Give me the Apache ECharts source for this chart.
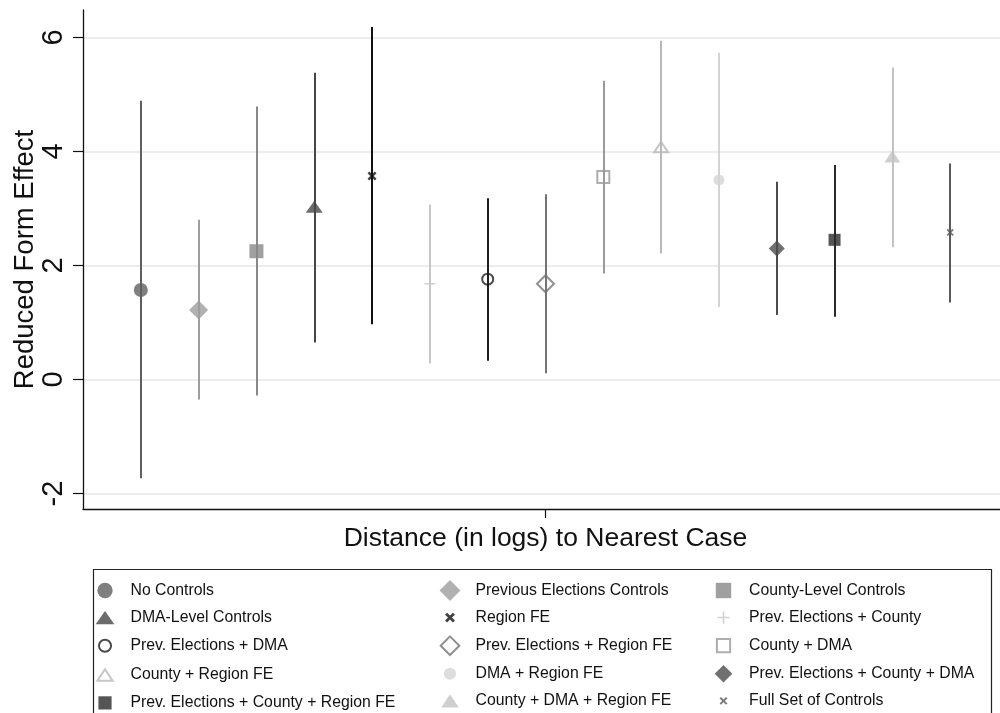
<!DOCTYPE html>
<html>
<head>
<meta charset="utf-8">
<script src="https://cdn.jsdelivr.net/npm/echarts@6/dist/echarts.min.js"></script>
<style>
  html, body { margin: 0; padding: 0; background: #ffffff; }
  #chart { width: 1000px; height: 713px; }
</style>
</head>
<body>
<div id="chart"></div>
<script>
// Specifications, in plotting order
const specNames = [
  'No Controls', 'Previous Elections Controls', 'County-Level Controls',
  'DMA-Level Controls', 'Region FE', 'Prev. Elections + County',
  'Prev. Elections + DMA', 'Prev. Elections + Region FE', 'County + DMA',
  'County + Region FE', 'DMA + Region FE', 'Prev. Elections + County + DMA',
  'Prev. Elections + County + Region FE', 'County + DMA + Region FE', 'Full Set of Controls'
];
// Point estimates and confidence bounds
const estimates = [1.57, 1.22, 2.25, 3.03, 3.57, 1.68, 1.76, 1.68, 3.55, 4.08, 3.50, 2.30, 2.45, 3.91, 2.58];
const ciLow     = [-1.73, -0.35, -0.28, 0.65, 0.97, 0.28, 0.33, 0.11, 1.86, 2.21, 1.27, 1.13, 1.10, 2.32, 1.35];
const ciHigh    = [4.89, 2.80, 4.79, 5.38, 6.18, 3.07, 3.18, 3.25, 5.24, 5.94, 5.73, 3.47, 3.76, 5.47, 3.79];
const yTicks = [-2, 0, 2, 4, 6];
const xTicks = [8];
const xTitle = 'Distance (in logs) to Nearest Case';
const yTitle = 'Reduced Form Effect';

// Marker shapes drawn in a 20x20 box (padded so every glyph keeps its own size)
const PAD = 'M0,0L0,0M20,20L20,20';
const shapes = {
  circle:      'M3,10A7,7 0 1 1 17,10A7,7 0 1 1 3,10Z',
  diamond:     'M10,0.5L19.5,10L10,19.5L0.5,10Z',
  square:      'M3,3H17V17H3Z',
  triangle:    'M1.5,16L10,4L18.5,16Z',
  cross:       'M5.5,7.3L7.3,5.5L10,8.2L12.7,5.5L14.5,7.3L11.8,10L14.5,12.7L12.7,14.5L10,11.8L7.3,14.5L5.5,12.7L8.2,10Z',
  plus:        'M9.3,4.5H10.7V9.3H15.5V10.7H10.7V15.5H9.3V10.7H4.5V9.3H9.3Z',
  oCircle:     'M4.5,10A5.5,5.5 0 1 1 15.5,10A5.5,5.5 0 1 1 4.5,10Z',
  oDiamond:    'M10,1.5L18.5,10L10,18.5L1.5,10Z',
  oSquare:     'M4,4H16V16H4Z',
  oTriangle:   'M3,15.5L10,5L17,15.5Z',
  smallCircle: 'M4.5,10A5.5,5.5 0 1 1 15.5,10A5.5,5.5 0 1 1 4.5,10Z',
  midDiamond:  'M10,2L18,10L10,18L2,10Z',
  midSquare:   'M4,4H16V16H4Z',
  midTriangle: 'M2,16L10,4L18,16Z',
  smallCross:  'M6.4,7.7L7.7,6.4L10,8.7L12.3,6.4L13.6,7.7L11.3,10L13.6,12.3L12.3,13.6L10,11.3L7.7,13.6L6.4,12.3L8.7,10Z'
};
const markerShape = ['circle', 'diamond', 'square', 'triangle', 'cross', 'plus', 'oCircle', 'oDiamond',
  'oSquare', 'oTriangle', 'smallCircle', 'midDiamond', 'midSquare', 'midTriangle', 'smallCross'];
const hollow = [false, false, false, false, false, false, true, true, true, true, false, false, false, false, false];
const colors = ['#5f5f5f', '#9d9d9d', '#888888', '#464646', '#111111', '#c6c6c6', '#1e1e1e', '#747474',
  '#9a9a9a', '#b8b8b8', '#d4d4d4', '#4c4c4c', '#2a2a2a', '#c3c3c3', '#5a5a5a'];

const FONT = '"Liberation Sans", Arial, Helvetica, sans-serif';

const series = specNames.map((name, i) => {
  const x = i + 1;
  const c = colors[i];
  return {
    name: name,
    type: 'scatter',
    z: 3,
    symbol: 'path://' + PAD + shapes[markerShape[i]],
    symbolSize: 20,
    symbolKeepAspect: true,
    itemStyle: hollow[i]
      ? { color: 'rgba(0,0,0,0)', borderColor: c, borderWidth: 2 }
      : { color: c, borderWidth: 0 },
    emphasis: { disabled: true },
    data: [[x, estimates[i]]],
    markLine: {
      silent: true,
      z: 1,
      symbol: 'none',
      animation: false,
      label: { show: false },
      emphasis: { disabled: true },
      lineStyle: { color: c, width: 2, type: 'solid' },
      data: [[{ coord: [x, ciLow[i]] }, { coord: [x, ciHigh[i]] }]]
    }
  };
});

function legendColumn(col, left) {
  const names = [];
  for (let i = col; i < specNames.length; i += 3) {
    names.push({
      name: specNames[i],
      itemStyle: hollow[i]
        ? { color: 'rgba(0,0,0,0)', borderColor: colors[i], borderWidth: 2 }
        : { color: colors[i], borderColor: colors[i], borderWidth: 0 }
    });
  }
  return {
    orient: 'vertical',
    left: left,
    top: 579.5,
    height: 170,
    padding: 0,
    itemWidth: 41,
    itemHeight: 22,
    itemGap: 5.1,
    symbolKeepAspect: true,
    selectedMode: false,
    textStyle: { fontFamily: FONT, fontSize: 15.8, color: '#111111' },
    data: names
  };
}

const chart = echarts.init(document.getElementById('chart'), null, { renderer: 'canvas' });
chart.setOption({
  animation: false,
  backgroundColor: '#ffffff',
  grid: { left: 83, top: 10, width: 925, height: 499, containLabel: false, outerBoundsMode: 'none' },
  xAxis: {
    type: 'value',
    min: 0,
    max: 16,
    name: xTitle,
    nameLocation: 'middle',
    nameGap: 16,
    nameMoveOverlap: false,
    nameTextStyle: { fontFamily: FONT, fontSize: 26.5, color: '#111111' },
    axisLine: { show: true, onZero: false, lineStyle: { color: '#111111', width: 1.3 } },
    axisTick: { show: true, customValues: xTicks, length: 9, lineStyle: { color: '#111111', width: 1.2 } },
    axisLabel: { show: false },
    splitLine: { show: false }
  },
  yAxis: {
    type: 'value',
    min: -2.27,
    max: 6.48,
    name: yTitle,
    nameLocation: 'middle',
    nameGap: 44,
    nameMoveOverlap: false,
    nameTextStyle: { fontFamily: FONT, fontSize: 27.5, color: '#111111' },
    axisLine: { show: true, lineStyle: { color: '#111111', width: 1.3 } },
    axisTick: { show: true, customValues: yTicks, length: 10, lineStyle: { color: '#111111', width: 1.2 } },
    axisLabel: {
      customValues: yTicks,
      rotate: 90,
      margin: 14.5,
      fontFamily: FONT,
      fontSize: 29,
      color: '#111111',
      formatter: v => String(v)
    },
    splitLine: { show: true, lineStyle: { color: '#e6e6e6', width: 1.5 } }
  },
  legend: [legendColumn(0, 93), legendColumn(1, 438), legendColumn(2, 711.5)],
  graphic: [{
    type: 'rect',
    silent: true,
    shape: { x: 93.5, y: 569.5, width: 898, height: 170 },
    style: { fill: 'none', stroke: '#222222', lineWidth: 1.2 }
  }],
  series: series
});
</script>
</body>
</html>
